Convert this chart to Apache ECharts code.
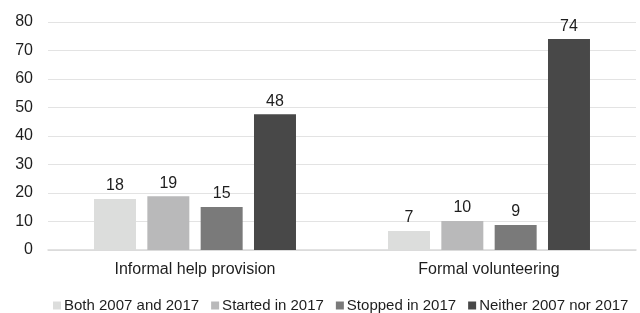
<!DOCTYPE html>
<html>
<head>
<meta charset="utf-8">
<script src="https://cdn.jsdelivr.net/npm/echarts@6/dist/echarts.min.js"></script>
<style>
html,body{margin:0;padding:0;background:#fff;}
#chart{width:640px;height:313px;}
</style>
</head>
<body>
<div id="chart"></div>
<script>
var categories = ['Informal help provision', 'Formal volunteering'];
var seriesNames = ['Both 2007 and 2017', 'Started in 2017', 'Stopped in 2017', 'Neither 2007 nor 2017'];
var bothValues = [17.9, 6.7];
var startedValues = [18.9, 10.2];
var stoppedValues = [15.1, 8.8];
var neitherValues = [47.6, 74.0];
var colors = ['#dcdddc', '#b9b9ba', '#7a7a7a', '#484848'];

var chart = echarts.init(document.getElementById('chart'), null, {renderer: 'canvas'});
var dataSets = [bothValues, startedValues, stoppedValues, neitherValues];
var textColor = '#1e1e1e';
var fontFamily = '"Liberation Sans", Arial, sans-serif';
var series = dataSets.map(function (d, i) {
  return {
    name: seriesNames[i],
    type: 'bar',
    data: d,
    barGap: '27%',
    barCategoryGap: '31.3%',
    itemStyle: {color: colors[i]},
    label: {
      show: true,
      position: 'top',
      distance: 5,
      color: textColor,
      fontSize: 16,
      fontFamily: fontFamily,
      formatter: function (p) { return Math.round(p.value); }
    }
  };
});

chart.setOption({
  animation: false,
  textStyle: {fontFamily: fontFamily},
  grid: {left: 48, right: 4, top: 22, bottom: 63, containLabel: false},
  legend: {
    data: seriesNames,
    top: 298,
    left: 53,
    padding: 0,
    itemWidth: 8,
    itemHeight: 8,
    itemGap: 12,
    icon: 'rect',
    textStyle: {color: textColor, fontSize: 15, fontFamily: fontFamily, padding: [0, 0, 0, -2]}
  },
  xAxis: {
    type: 'category',
    data: categories,
    axisLine: {show: true, lineStyle: {color: '#d9d9d9', width: 1.5}},
    axisTick: {show: false},
    axisLabel: {color: textColor, fontSize: 16, fontFamily: fontFamily, margin: 12}
  },
  yAxis: {
    type: 'value',
    min: 0,
    max: 80,
    interval: 10,
    axisLine: {show: false},
    axisTick: {show: false},
    axisLabel: {color: textColor, fontSize: 16, fontFamily: fontFamily, margin: 15},
    splitLine: {lineStyle: {color: '#e3e3e3', width: 1}}
  },
  series: series
});
</script>
</body>
</html>
